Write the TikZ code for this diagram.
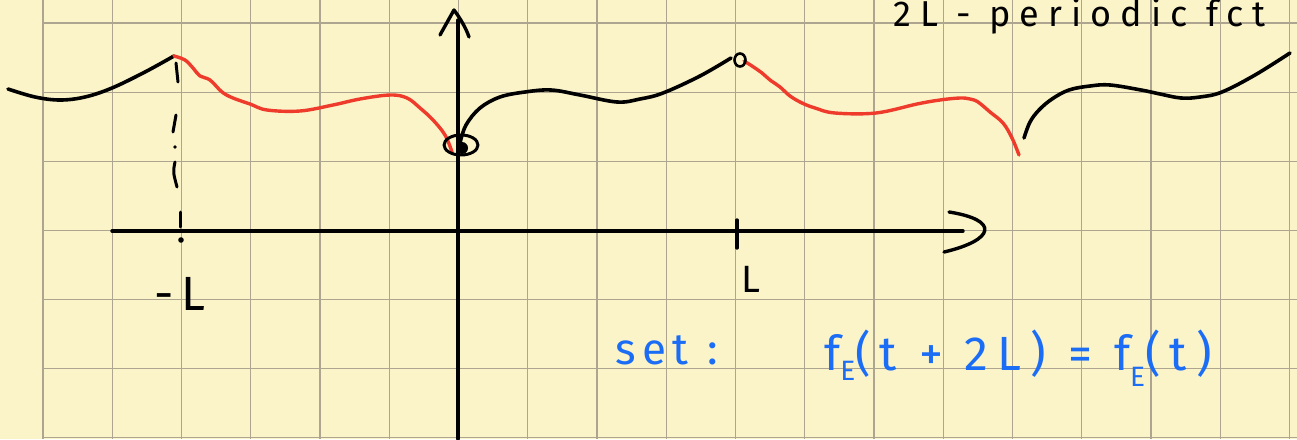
\documentclass[tikz,border=0pt]{standalone}
\usepackage{fontspec}
\setmainfont{Fira Sans}
\definecolor{paper}{HTML}{FBF4C9}
\definecolor{gridc}{HTML}{ADA590}
\definecolor{inkred}{HTML}{EE3B2C}
\definecolor{inkblue}{HTML}{1C6DF5}
\begin{document}
\begin{tikzpicture}[x=1pt,y=-1pt,
  gridline/.style={gridc, line width=1.1pt},
  ink/.style={black, line width=3.6pt, line cap=round, line join=round},
  redink/.style={inkred, line width=3.4pt, line cap=round, line join=round},
  axis/.style={black, line width=3.4pt, line cap=round, line join=round},
  blacktext/.style={black, inner sep=0pt},
  bluetext/.style={inkblue, inner sep=0pt}]
\useasboundingbox (0,0) rectangle (1297,439);
\fill[paper] (0,0) rectangle (1297,439);
\clip (0,0) rectangle (1297,439);
% grid
\foreach \k in {1,...,18} \draw[gridline] ({43+69.25*\k},0) -- ({43+69.25*\k},439);
\draw[gridc, line width=2pt] (43,0) -- (43,439);
\foreach \k in {0,...,6} \draw[gridline] (43,{23+69.1*\k}) -- (1297,{23+69.1*\k});
% axes
\draw[axis] (112,231) -- (963,231);
\draw[axis] (949,212) .. controls (1000,220) and (995,240) .. (944,252);
\draw[axis] (458,439) -- (458,20);
\draw[axis] (440,35) -- (454,10) .. controls (460,18) and (466,28) .. (469,37);
% ticks
\draw[axis] (737,220) -- (737,248);
% dashed line at -L
\draw[ink, line width=3pt] (176,63) -- (178,82);
\draw[ink, line width=3pt] (176,115) -- (173,132);
\fill (175,147) circle (1.8);
\draw[ink, line width=3pt] (175,162) .. controls (173,172) .. (177,187);
\draw[ink, line width=3pt] (180,212) -- (180,227);
\fill (181,240) circle (2.8);
% function pieces
\draw[ink] plot[smooth, tension=0.6] coordinates {(8,89) (35,97) (60,100) (85,97) (112,88) (145,72) (174,56)};
\draw[redink] plot[smooth, tension=0.6] coordinates {(174,56) (185,60) (193,68) (200,76) (210,80) (222,92) (233,98) (250,104) (267,110) (300,111) (333,105) (360,99) (390,95) (407,98) (420,108) (433,120) (445,135) (452,152)};
\draw[ink] plot[smooth, tension=0.6] coordinates {(460,143) (466,125) (480,108) (500,97) (525,92) (551,90) (580,95) (617,102) (640,99) (663,93) (700,76) (731,58)};
\draw[redink] plot[smooth, tension=0.6] coordinates {(744,61) (752,66) (762,73) (770,80) (780,87) (790,96) (802,103) (815,108) (835,113) (876,113) (917,104) (940,100) (960,98) (970,99) (978,102) (990,112) (1003,123) (1012,138) (1019,155)};
\draw[ink] plot[smooth, tension=0.6] coordinates {(1024,138) (1030,122) (1039,110) (1052,99) (1069,90) (1090,86) (1110,85) (1141,90) (1160,94) (1181,98) (1200,97) (1222,92) (1255,75) (1290,53)};
% open/closed marks
\draw[ink, line width=2.6pt] (740,60) ellipse (5.5 and 6.5);
\fill (462,148) circle (6);
\draw[ink, line width=3pt] (461,145) ellipse (17 and 10);
% labels
\node[blacktext, anchor=base west] (title) at (893,26)
  {\fontsize{36}{42}\selectfont\addfontfeature{LetterSpace=25}2L - periodic fct};
\node[blacktext, anchor=base] (mL) at (180,310) {\fontsize{48}{52}\selectfont -\,L};
\node[blacktext, anchor=base] (pL) at (751,292) {\fontsize{38}{42}\selectfont L};
\node[bluetext, anchor=base west] (set) at (615,364)
  {\fontsize{44}{50}\selectfont\addfontfeature{LetterSpace=15}set :};
\node[bluetext, anchor=base west] (eq) at (824,370)
  {\fontsize{48}{54}\selectfont\addfontfeature{LetterSpace=19}f\raisebox{-10pt}{\fontsize{28}{30}\selectfont E}(t + 2L) = f\raisebox{-16pt}{\fontsize{28}{30}\selectfont E}(t)};
\end{tikzpicture}
\end{document}
